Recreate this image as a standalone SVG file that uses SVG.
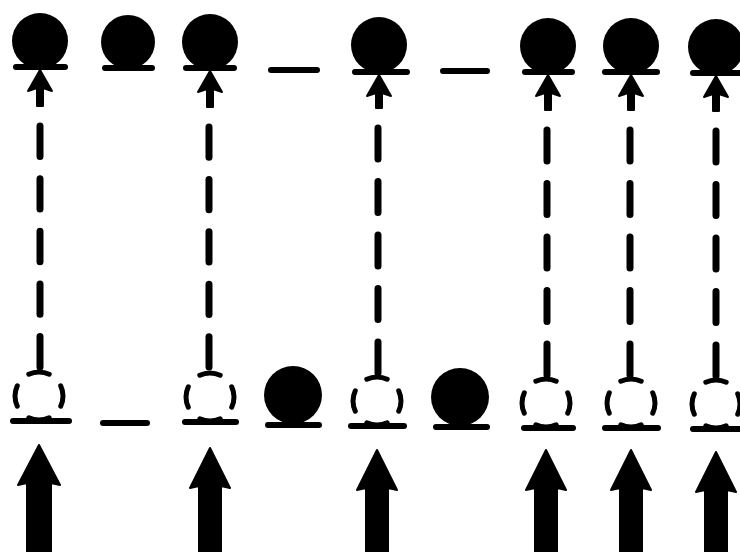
<svg xmlns="http://www.w3.org/2000/svg" width="740" height="552" viewBox="0 0 740 552">
  <defs>
    <style>
      .ink { fill: #000; }
      .bar { stroke: #000; stroke-width: 6; stroke-linecap: round; fill: none; }
      .arrow { fill: #000; stroke: #000; stroke-width: 2; stroke-linejoin: round; }
      .ring { fill: none; stroke: #000; stroke-width: 5; stroke-linecap: round; stroke-dasharray: 14 11; stroke-dashoffset: 7; }
      .link { stroke: #000; stroke-width: 7; stroke-linecap: round; stroke-dasharray: 30 22; fill: none; }
    </style>
  </defs>
  <rect width="740" height="552" fill="#fff"/>

  <!-- upper row: filled balls on their bars -->
  <g id="top-1">
    <circle class="ink" cx="40" cy="41" r="28"/>
    <line class="bar" x1="16" y1="67" x2="65" y2="67"/>
    <path class="arrow" d="M40,70 L52,91 L43,88 L43,106 L37,106 L37,88 L28,91 Z"/>
  </g>
  <g id="top-2">
    <circle class="ink" cx="128" cy="42" r="27"/>
    <line class="bar" x1="105" y1="68" x2="152" y2="68"/>
  </g>
  <g id="top-3">
    <circle class="ink" cx="210" cy="42" r="28"/>
    <line class="bar" x1="186" y1="68" x2="234" y2="68"/>
    <path class="arrow" d="M210,71 L222,92 L213,89 L213,107 L207,107 L207,89 L198,92 Z"/>
  </g>
  <g id="top-gap-1">
    <line class="bar" x1="271" y1="70" x2="317" y2="70"/>
  </g>
  <g id="top-4">
    <circle class="ink" cx="379" cy="45" r="28"/>
    <line class="bar" x1="355" y1="72" x2="407" y2="72"/>
    <path class="arrow" d="M379,75 L391,96 L382,93 L382,108 L376,108 L376,93 L367,96 Z"/>
  </g>
  <g id="top-gap-2">
    <line class="bar" x1="443" y1="71" x2="487" y2="71"/>
  </g>
  <g id="top-5">
    <circle class="ink" cx="548" cy="46" r="28"/>
    <line class="bar" x1="525" y1="72" x2="572" y2="72"/>
    <path class="arrow" d="M548,75 L560,96 L551,93 L551,110 L545,110 L545,93 L536,96 Z"/>
  </g>
  <g id="top-6">
    <circle class="ink" cx="631" cy="46" r="28"/>
    <line class="bar" x1="605" y1="72" x2="657" y2="72"/>
    <path class="arrow" d="M631,75 L643,96 L634,93 L634,110 L628,110 L628,93 L619,96 Z"/>
  </g>
  <g id="top-7">
    <circle class="ink" cx="716" cy="47" r="28"/>
    <line class="bar" x1="693" y1="73" x2="745" y2="73"/>
    <path class="arrow" d="M716,76 L728,97 L719,94 L719,111 L713,111 L713,94 L704,97 Z"/>
  </g>

  <!-- dashed links from each lower ring up to its ball -->
  <g id="connectors">
    <line class="link" x1="40" y1="126" x2="40" y2="368" pathLength="239"/>
    <line class="link" x1="209" y1="127" x2="209" y2="368" pathLength="239"/>
    <line class="link" x1="378" y1="128" x2="378" y2="374" pathLength="239"/>
    <line class="link" x1="547" y1="130" x2="547" y2="376" pathLength="239"/>
    <line class="link" x1="630" y1="130" x2="630" y2="376" pathLength="239"/>
    <line class="link" x1="716" y1="131" x2="716" y2="377" pathLength="239"/>
  </g>

  <!-- lower row: dashed rings, filled balls and gaps -->
  <g id="bottom-1">
    <circle class="ring" cx="39" cy="396" r="24" pathLength="100"/>
    <line class="bar" x1="13" y1="421" x2="69" y2="421"/>
  </g>
  <g id="bottom-gap-1">
    <line class="bar" x1="103" y1="423" x2="147" y2="423"/>
  </g>
  <g id="bottom-2">
    <circle class="ring" cx="210" cy="397" r="24" pathLength="100"/>
    <line class="bar" x1="185" y1="422" x2="236" y2="422"/>
  </g>
  <g id="bottom-3">
    <circle class="ink" cx="293" cy="395" r="29"/>
    <line class="bar" x1="268" y1="425" x2="319" y2="425"/>
  </g>
  <g id="bottom-4">
    <circle class="ring" cx="377" cy="401" r="24" pathLength="100"/>
    <line class="bar" x1="351" y1="426" x2="404" y2="426"/>
  </g>
  <g id="bottom-5">
    <circle class="ink" cx="460" cy="397" r="29"/>
    <line class="bar" x1="436" y1="427" x2="487" y2="427"/>
  </g>
  <g id="bottom-6">
    <circle class="ring" cx="546" cy="403" r="24" pathLength="100"/>
    <line class="bar" x1="524" y1="428" x2="573" y2="428"/>
  </g>
  <g id="bottom-7">
    <circle class="ring" cx="631" cy="403" r="24" pathLength="100"/>
    <line class="bar" x1="605" y1="428" x2="658" y2="428"/>
  </g>
  <g id="bottom-8">
    <circle class="ring" cx="716" cy="404" r="24" pathLength="100"/>
    <line class="bar" x1="693" y1="429" x2="745" y2="429"/>
  </g>

  <!-- incoming arrows -->
  <g id="in-1"><path class="arrow" d="M39,445 L60,485 L51,483 L51,552 L27,552 L27,483 L18,485 Z"/></g>
  <g id="in-2"><path class="arrow" d="M210,448 L230,488 L221,486 L221,552 L199,552 L199,486 L190,488 Z"/></g>
  <g id="in-3"><path class="arrow" d="M377,450 L397,490 L388,488 L388,552 L366,552 L366,488 L357,490 Z"/></g>
  <g id="in-4"><path class="arrow" d="M546,450 L566,490 L557,488 L557,552 L535,552 L535,488 L526,490 Z"/></g>
  <g id="in-5"><path class="arrow" d="M631,450 L651,490 L642,488 L642,552 L620,552 L620,488 L611,490 Z"/></g>
  <g id="in-6"><path class="arrow" d="M716,452 L736,492 L727,490 L727,552 L705,552 L705,490 L696,492 Z"/></g>
</svg>
